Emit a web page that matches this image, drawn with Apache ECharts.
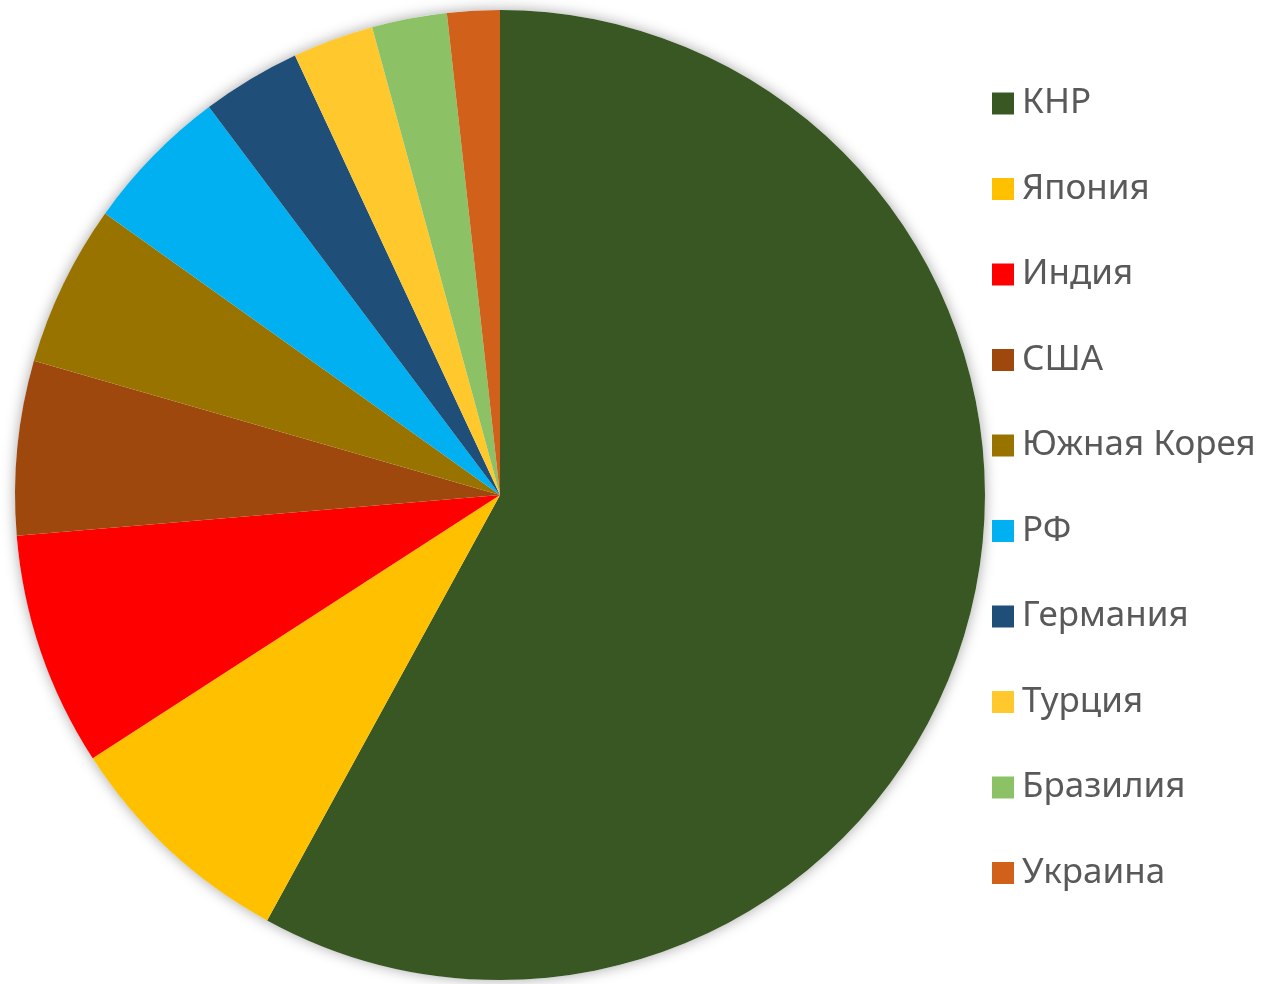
<!DOCTYPE html>
<html>
<head>
  <meta charset="utf-8">
  <title>Pie</title>
  <script src="https://cdn.jsdelivr.net/npm/echarts/dist/echarts.min.js"></script>
  <style>
    html, body { margin: 0; padding: 0; background: #fff; }
    #chart { width: 1266px; height: 984px; }
  </style>
</head>
<body>
  <div id="chart"></div>
  <script>
    // countries and shares (%)
    const countries = ['КНР', 'Япония', 'Индия', 'США', 'Южная Корея', 'РФ', 'Германия', 'Турция', 'Бразилия', 'Украина'];
    const shares = [58, 7.9, 7.8, 5.8, 5.4, 4.9, 3.3, 2.7, 2.5, 1.75];
    const colors = ['#385723', '#FFC000', '#FF0000', '#9E480E', '#997300', '#00B0F0', '#1F4E79', '#FFC92E', '#8DC166', '#D0601A'];

    const chart = echarts.init(document.getElementById('chart'));
    chart.setOption({
      animation: false,
      legend: {
        orient: 'vertical',
        left: 987,
        top: 81,
        icon: 'rect',
        itemWidth: 22,
        itemHeight: 22,
        itemGap: 50.5,
        data: countries,
        textStyle: { fontFamily: 'Noto Sans', fontSize: 35, color: '#595959', padding: [0, 0, 0, 3] }
      },
      series: [
        {
          // soft shadow behind the pie
          type: 'pie',
          silent: true,
          z: 1,
          center: [500, 495],
          radius: 485,
          label: { show: false },
          data: [{ name: 'bg', value: 1 }],
          itemStyle: { color: '#fff', shadowBlur: 14, shadowColor: 'rgba(0,0,0,0.35)' }
        },
        {
          type: 'pie',
          z: 2,
          center: [500, 495],
          radius: 485,
          startAngle: 90,
          label: { show: false },
          labelLine: { show: false },
          data: countries.map((c, i) => ({ name: c, value: shares[i], itemStyle: { color: colors[i] } })),
          itemStyle: { borderWidth: 0 }
        }
      ]
    });
  </script>
</body>
</html>
